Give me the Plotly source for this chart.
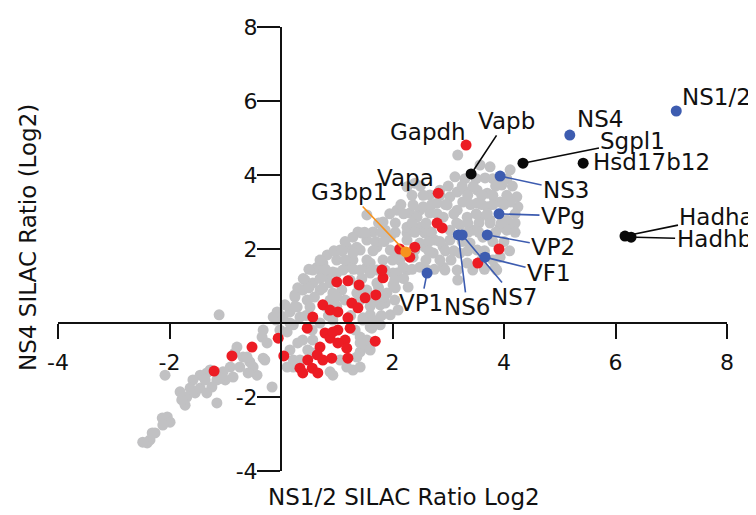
import plotly.graph_objects as go

# ---------------- data (log2 SILAC ratios) ----------------
gray_x = [-1.11, -0.05, -0.32, -0.34, -0.25, -0.79, -0.83, -0.68, -0.56, -0.29, -0.43, -0.16, -0.74, -0.91,
          -1.04, -0.86, -1.00, -1.15, -1.33, -1.45, -1.58, -1.63, -1.69, -1.72, -1.54, -1.45, -1.15, -2.08,
          -2.04, -2.13, -1.99, -2.12, -2.26, -2.35, -2.40, -1.24, -1.33, -0.61, -0.32, -1.78, -2.48, -2.31,
          -0.50, -0.59, -1.09, -1.27, -1.81, -1.36,
          0.22, 0.34, 0.93, 1.29, 1.42, 1.54, 1.60, 1.65, 1.47, 0.22, 0.11, 0.30, 0.16, 0.48, 1.42, 0.22,
          0.11, 0.57, 0.39, 0.57, 0.56, 0.70, 0.93, 1.63, 1.54, 1.42, 1.60, 1.36, 1.18, 1.42, 0.88, -0.02,
          -0.09, 1.06, 1.33,
          -0.07, -0.14, 0.04, 0.16, 0.29, 0.47, 0.39, 0.57, 0.34, 0.16, 0.52, 0.70, 0.83, 1.18, 1.54, 0.75,
          0.74, 1.29, 1.60, 1.36, 1.72, 2.13, 2.08, 1.60, 1.00, 1.78, 1.96, 1.60, 1.47, 1.54, 1.90, 2.01,
          1.72, 1.36, 1.09, 0.93, 1.15, 0.88,
          1.54, 1.38, 1.65, 1.83, 2.26, 2.40, 2.31, 2.49, 2.08, 1.87, 1.54, 1.29, 1.18, 1.42, 1.96, 2.26,
          2.44, 2.58, 2.58, 2.08, 1.83, 1.54, 1.24, 1.00, 0.75, 0.93, 1.11, 1.42, 1.72, 2.01, 2.26, 2.49,
          0.65, 1.45, 1.29,
          3.17, 3.12, 3.57, 3.75, 3.66, 4.11, 3.96, 4.23, 4.25, 4.11, 3.93, 3.70, 3.52, 3.34, 3.16, 3.03,
          3.26, 3.52, 3.70, 3.16, 2.98, 2.80, 2.55, 2.37, 2.44, 2.67, 2.91, 3.34, 3.57, 3.75, 4.05, 4.16,
          3.93, 2.26, 2.49, 2.62, 3.03, 3.44, 3.62, 3.03, 2.91, 3.39, 3.52, 2.49, 2.26, 2.37, 2.73, 3.21,
          3.34, 3.44, 3.16, 2.91, 2.62, 4.05, 3.93, 3.87, 2.19, 2.04, 1.87, 2.10, 3.17, 3.84, 2.94, 2.28,
          2.67, 2.85, 2.76, 3.21, 1.96, 2.40, 2.85, 1.87, 1.06, 0.83, 0.57, 0.43, 0.25, 0.07, 0.88, 1.24,
          1.42, 1.69, 2.04, 1.78,
          3.30, 3.50, 3.80, 4.05,
          2.50, 3.00, 3.25, 3.45, 3.85, 4.15,
          2.35, 2.55, 2.85, 3.35, 3.60, 3.80, 4.05,
          2.15, 2.70, 2.95, 3.40, 3.60, 3.80, 4.00,
          1.95, 2.20, 2.80, 3.10, 3.50, 3.70, 4.20,
          1.75, 2.05, 2.35, 2.60, 3.15, 3.35, 3.55, 3.75, 3.95, 4.20,
          1.50, 1.80, 2.05, 2.40, 2.70, 3.35, 3.55, 3.85, 4.20,
          1.15, 1.70, 1.85, 2.65, 2.85, 3.25, 3.80, 4.00,
          0.95, 1.10, 1.65, 2.65, 2.95, 3.10, 3.35, 3.65, 4.10,
          0.70, 1.15, 2.00, 2.60, 3.05, 3.60, 3.80,
          0.50, 0.80, 1.30, 2.35, 2.75, 3.65,
          0.40, 0.70, 1.45, 2.20,
          0.30, 0.50, 0.75, 1.40, 1.75, 2.05,
          0.25, 0.60, 1.00, 1.85,
          0.25, 0.80, 1.00, 1.60,
          0.45, 0.85, 1.25, 1.80]
gray_y = [0.22, 0.27, -0.19, -0.38, -0.54, -0.65, -0.81, -0.92, -1.05, -1.00, -1.41, -1.73, -1.19, -1.19,
          -1.32, -1.46, -1.54, -1.54, -1.35, -1.41, -1.54, -1.76, -2.00, -2.22, -1.89, -1.76, -2.16, -1.41,
          -2.54, -2.57, -2.68, -2.76, -2.97, -3.16, -3.24, -1.73, -1.89, -0.92, -0.95, -2.08, -3.22, -2.97,
          -1.19, -1.35, -1.49, -1.27, -1.86, -1.54,
          -1.19, -1.00, -1.41, -1.27, -0.78, -0.65, -0.11, 0.08, 0.14, -0.05, -0.24, -0.54, -0.73, -0.73,
          -0.38, -1.00, -1.19, -0.81, -0.46, -0.46, -0.19, 0.00, 0.08, -0.14, -0.46, -0.54, -0.73, -0.92,
          -1.19, -1.19, -1.32, -0.19, 0.08, -1.00, -0.19,
          0.30, 0.16, 0.16, 0.30, 0.43, 0.62, 0.89, 1.08, 0.16, 0.00, 0.43, 0.89, 1.24, 1.51, 1.51, 1.62,
          1.35, 1.70, 1.62, 2.05, 2.05, 1.70, 1.35, 1.35, 1.35, 0.49, 0.22, 0.22, 0.08, 0.89, 0.81, 1.03,
          1.08, 0.81, 0.89, 0.81, 0.62, 0.62,
          2.92, 2.46, 2.46, 2.73, 3.68, 3.78, 2.97, 3.05, 3.05, 2.51, 2.24, 2.32, 2.05, 1.97, 2.32, 2.43,
          2.51, 2.43, 2.05, 1.78, 1.70, 1.70, 1.70, 1.70, 1.57, 1.38, 1.43, 1.43, 1.43, 1.35, 1.43, 1.51,
          1.51, 2.43, 1.89,
          4.54, 3.95, 4.27, 4.22, 3.92, 4.14, 3.73, 3.41, 3.14, 3.27, 3.27, 3.51, 3.59, 3.54, 3.54, 3.41,
          3.27, 3.24, 3.14, 3.05, 3.19, 3.24, 3.14, 3.19, 2.86, 2.97, 2.86, 2.86, 2.86, 2.78, 2.78, 2.59,
          2.59, 2.59, 2.59, 2.51, 2.51, 2.51, 2.32, 2.24, 2.05, 2.16, 1.97, 2.16, 2.24, 1.78, 1.89, 1.89,
          1.62, 1.43, 1.43, 1.51, 1.43, 2.51, 1.78, 1.43, 1.51, 1.16, 0.54, 0.35, 1.16, 1.49, 1.43, 0.97,
          3.46, 3.59, 2.24, 2.65, 1.97, 1.97, 1.70, 1.43, 1.97, 1.84, 1.43, 1.16, 0.76, 0.49, 1.08, 1.16,
          0.62, 0.62, 0.62, -0.05,
          3.90, 3.90, 3.90, 3.90,
          3.70, 3.70, 3.70, 3.70, 3.70, 3.70,
          3.45, 3.45, 3.45, 3.45, 3.45, 3.45, 3.45,
          3.20, 3.20, 3.20, 3.20, 3.20, 3.20, 3.20,
          2.95, 2.95, 2.95, 2.95, 2.95, 2.95, 2.95,
          2.70, 2.70, 2.70, 2.70, 2.70, 2.70, 2.70, 2.70, 2.70, 2.70,
          2.45, 2.45, 2.45, 2.45, 2.45, 2.45, 2.45, 2.45, 2.45,
          2.20, 2.20, 2.20, 2.20, 2.20, 2.20, 2.20, 2.20,
          1.95, 1.95, 1.95, 1.95, 1.95, 1.95, 1.95, 1.95, 1.95,
          1.70, 1.70, 1.70, 1.70, 1.70, 1.70, 1.70,
          1.45, 1.45, 1.45, 1.45, 1.45, 1.45,
          1.20, 1.20, 1.20, 1.20,
          0.95, 0.95, 0.95, 0.95, 0.95, 0.95,
          0.70, 0.70, 0.70, 0.70,
          0.45, 0.45, 0.45, 0.45,
          0.20, 0.20, 0.20, 0.20]

red_x = [-1.20, -0.88, -0.52, -0.05, 0.05, 0.47, 0.57, 0.75, 0.88, 1.02, 1.00, 1.20, 1.40, 1.83, 1.70,
         1.51, 1.27, 1.38, 1.20, 1.24, 1.02, 0.79, 0.88, 1.15, 0.70, 1.02, 1.18, 1.69, 0.65, 0.91, 1.20,
         0.75, 0.48, 0.34, 0.56, 0.66, 0.39, 1.81, 2.80, 2.89, 2.13, 2.40, 2.31, 3.91, 3.53, 3.32, 2.82, 0.93]
red_y = [-1.30, -0.89, -0.65, -0.41, -0.89, -0.14, 0.16, 0.49, 0.35, 0.30, 1.11, 1.14, 1.03, 1.22, 0.76,
         0.68, 0.54, 0.41, 0.14, -0.14, -0.19, -0.27, -0.41, -0.46, -0.65, -0.54, -0.68, -0.49, -0.86, -0.95,
         -0.95, -1.00, -1.00, -1.22, -1.22, -1.35, -1.35, 1.43, 2.70, 2.57, 2.00, 2.05, 1.78, 2.00, 1.62,
         4.81, 3.51, -0.24]

blue_names = ["NS1/2", "NS4", "NS3", "VPg", "VP2", "NS6", "NS7", "VF1", "VP1"]
blue_x = [7.09, 5.18, 3.93, 3.91, 3.70, 3.18, 3.25, 3.66, 2.62]
blue_y = [5.73, 5.08, 3.97, 2.95, 2.38, 2.38, 2.38, 1.78, 1.35]

black_names = ["Vapb", "Sgpl1", "Hsd17b12", "Hadha", "Hadhb"]
black_x = [3.41, 4.34, 5.42, 6.17, 6.28]
black_y = [4.03, 4.32, 4.32, 2.35, 2.32]

red_names = ["Gapdh", "Vapa"]
red_named_x = [3.32, 2.82]
red_named_y = [4.81, 3.51]

orange_names = ["G3bp1"]
orange_x = [2.24]
orange_y = [1.92]

x_ticks = [-4, -2, 2, 4, 6, 8]
y_ticks = [-4, -2, 2, 4, 6, 8]

# ---------------- styling ----------------
GRAY = "#c1c1c3"
RED = "#ec1c24"
BLUE = "#3d5cb0"
BLACK = "#0a0a0a"
ORANGE = "#f7931e"
FONT = "DejaVu Sans"

fig = go.Figure()
fig.add_trace(go.Scatter(x=gray_x, y=gray_y, mode="markers",
                         marker=dict(color=GRAY, size=11, line=dict(width=0))))
fig.add_trace(go.Scatter(x=red_x, y=red_y, mode="markers",
                         marker=dict(color=RED, size=11, line=dict(width=0))))
fig.add_trace(go.Scatter(x=blue_x, y=blue_y, mode="markers",
                         marker=dict(color=BLUE, size=11, line=dict(width=0))))
fig.add_trace(go.Scatter(x=black_x, y=black_y, mode="markers",
                         marker=dict(color=BLACK, size=11, line=dict(width=0))))
fig.add_trace(go.Scatter(x=orange_x, y=orange_y, mode="markers",
                         marker=dict(color=ORANGE, size=11, line=dict(width=0))))

# label placement (pixel offsets)
plain = {  # no leader line
    "NS1/2": dict(xanchor="left", xshift=4, yshift=14),
    "NS4": dict(xanchor="left", xshift=5, yshift=16),
    "Hsd17b12": dict(xanchor="left", xshift=8, yshift=1),
    "Gapdh": dict(xanchor="right", xshift=2, yshift=13),
    "Vapa": dict(xanchor="right", xshift=-2, yshift=15),
}
leader = {  # with leader line: (ax, ay, colour)
    "Vapb": (35, -53, BLACK),
    "Sgpl1": (110, -22, BLACK),
    "Hadha": (92, -19, BLACK),
    "Hadhb": (83, 2, BLACK),
    "NS3": (66, 14, BLUE),
    "VPg": (64, 2, BLUE),
    "VP2": (66, 12, BLUE),
    "VF1": (64, 16, BLUE),
    "VP1": (-6, 30, BLUE),
    "NS6": (9, 72, BLUE),
    "NS7": (52, 62, BLUE),
    "G3bp1": (-57, -60, ORANGE),
}

names = blue_names + black_names + red_names + orange_names
xs = blue_x + black_x + red_named_x + orange_x
ys = blue_y + black_y + red_named_y + orange_y
for n, xv, yv in zip(names, xs, ys):
    if n in plain:
        fig.add_annotation(x=xv, y=yv, text=n, showarrow=False, yanchor="middle",
                           font=dict(family=FONT, size=23, color="#111"), **plain[n])
    else:
        ax, ay, col = leader[n]
        fig.add_annotation(x=xv, y=yv, text=n, showarrow=True, ax=ax, ay=ay,
                           arrowhead=0, arrowwidth=1.6, arrowcolor=col, standoff=5,
                           font=dict(family=FONT, size=23, color="#111"))

# axis titles (paper coords; plot area is 669 x 444 px)
fig.add_annotation(xref="paper", yref="paper", x=0.517, y=-0.059, xanchor="center", yanchor="middle",
                   text="NS1/2 SILAC Ratio Log2",
                   showarrow=False, font=dict(family=FONT, size=23, color="#111"))
fig.add_annotation(xref="paper", yref="paper", x=-0.045, y=0.527, xanchor="center", yanchor="middle",
                   text="NS4 SILAC Ratio (Log2)",
                   textangle=-90, showarrow=False, font=dict(family=FONT, size=23, color="#111"))

axis_common = dict(showgrid=False, zeroline=False, showline=True, linecolor="#111", linewidth=2,
                   ticks="outside", tickcolor="#111", tickwidth=2, anchor="free", position=1/3,
                   automargin=False, tickfont=dict(family=FONT, size=22, color="#111"))
fig.update_xaxes(range=[-4, 8], tickvals=x_ticks, ticktext=[str(t) for t in x_ticks],
                 ticklen=15, ticklabelstandoff=5, **axis_common)
fig.update_yaxes(range=[-4, 8], tickvals=y_ticks, ticktext=[str(t) for t in y_ticks],
                 ticklen=23, ticklabelstandoff=-5, **axis_common)

# page body has an 8px margin, so the figure is sized to fit the 756x515 window
fig.update_layout(width=748, height=507, margin=dict(l=50, r=29, t=19, b=44),
                  plot_bgcolor="white", paper_bgcolor="white", showlegend=False,
                  font=dict(family=FONT))

fig.write_html("out.html")
